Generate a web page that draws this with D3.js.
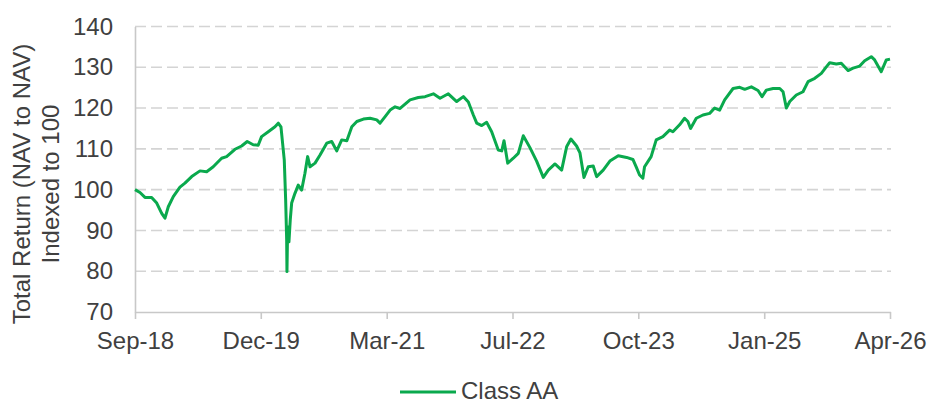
<!DOCTYPE html>
<html>
<head>
<meta charset="utf-8">
<script src="https://d3js.org/d3.v7.min.js"></script>
<style>
    body { margin: 0; background: #ffffff; }
    svg { display: block; font-family: 'Liberation Sans', Arial, sans-serif; }
</style>
<title>Class AA total return</title>
</head>
<body>
<svg id="chart" width="928" height="401"></svg>
<script>
    // dates as decimal years, values indexed to 100
    const years = [
        2018.740, 2018.790, 2018.840, 2018.907, 2018.958, 2019.008, 2019.041, 2019.074, 2019.124, 2019.191,
        2019.241, 2019.309, 2019.392, 2019.459, 2019.525, 2019.609, 2019.659, 2019.743, 2019.810, 2019.866,
        2019.926, 2019.976, 2020.010, 2020.077, 2020.144, 2020.177, 2020.204, 2020.217, 2020.237, 2020.251,
        2020.261, 2020.264, 2020.271, 2020.284, 2020.297, 2020.311, 2020.344, 2020.377, 2020.411, 2020.444,
        2020.471, 2020.495, 2020.545, 2020.595, 2020.662, 2020.712, 2020.762, 2020.812, 2020.863, 2020.913,
        2020.963, 2021.029, 2021.096, 2021.163, 2021.196, 2021.247, 2021.297, 2021.347, 2021.397, 2021.497,
        2021.580, 2021.648, 2021.731, 2021.798, 2021.881, 2021.965, 2022.032, 2022.082, 2022.132, 2022.166,
        2022.216, 2022.266, 2022.316, 2022.382, 2022.417, 2022.440, 2022.477, 2022.533, 2022.583, 2022.633,
        2022.700, 2022.767, 2022.834, 2022.884, 2022.951, 2023.018, 2023.068, 2023.111, 2023.168, 2023.202,
        2023.242, 2023.285, 2023.335, 2023.369, 2023.435, 2023.502, 2023.586, 2023.670, 2023.733, 2023.766,
        2023.800, 2023.833, 2023.850, 2023.916, 2023.967, 2024.034, 2024.101, 2024.134, 2024.201, 2024.251,
        2024.284, 2024.311, 2024.368, 2024.435, 2024.502, 2024.552, 2024.602, 2024.652, 2024.736, 2024.803,
        2024.853, 2024.919, 2024.986, 2025.026, 2025.069, 2025.137, 2025.204, 2025.237, 2025.270, 2025.304,
        2025.370, 2025.437, 2025.488, 2025.555, 2025.621, 2025.671, 2025.705, 2025.771, 2025.821, 2025.889,
        2025.939, 2026.006, 2026.056, 2026.122, 2026.156, 2026.222, 2026.273, 2026.310
    ];
    const values = [
        100.0, 99.3, 98.1, 98.1, 96.7, 94.2, 93.0, 95.8, 98.3, 100.6,
        101.6, 103.2, 104.6, 104.4, 105.6, 107.7, 108.1, 109.9, 110.7, 111.8,
        111.0, 110.9, 113.0, 114.2, 115.4, 116.3, 115.4, 112.2, 107.3, 97.5,
        87.7, 79.9, 90.9, 87.2, 92.6, 96.7, 99.1, 101.1, 99.9, 104.0,
        108.1, 105.6, 106.5, 108.5, 111.4, 111.8, 109.5, 112.2, 112.0, 115.4,
        116.7, 117.3, 117.5, 117.1, 116.3, 117.9, 119.5, 120.3, 119.9, 122.0,
        122.6, 122.8, 123.5, 122.4, 123.5, 121.6, 122.8, 121.5, 118.3, 116.3,
        115.7, 116.5, 114.2, 109.7, 109.5, 112.0, 106.5, 107.7, 108.9, 113.2,
        110.3, 107.0, 103.0, 104.8, 106.3, 104.8, 110.5, 112.4, 110.7, 109.0,
        103.0, 105.6, 105.8, 103.2, 104.8, 107.0, 108.3, 107.9, 107.4, 105.6,
        103.6, 102.8, 105.6, 108.1, 112.2, 113.0, 114.6, 114.2, 115.9, 117.5,
        116.7, 115.0, 117.5, 118.3, 118.7, 120.0, 119.5, 122.0, 124.8, 125.1,
        124.6, 125.2, 124.3, 122.8, 124.4, 124.8, 124.8, 124.0, 120.0, 121.6,
        123.2, 124.0, 126.5, 127.3, 128.5, 130.1, 131.1, 130.8, 131.0, 129.2,
        129.8, 130.3, 131.6, 132.6, 131.8, 128.9, 131.8, 132.0
    ];
    const yTicks = [70, 80, 90, 100, 110, 120, 130, 140];
    const xTickYears = [2018.740, 2020.002, 2021.263, 2022.525, 2023.787, 2025.048, 2026.310];
    const xTickLabels = ["Sep-18", "Dec-19", "Mar-21", "Jul-22", "Oct-23", "Jan-25", "Apr-26"];
    const seriesName = "Class AA";
    const titleLines = ["Total Return (NAV to NAV)", "Indexed to 100"];

    function toDate(y) {
        var yr = Math.floor(y);
        var start = Date.UTC(yr, 0, 1);
        var end = Date.UTC(yr + 1, 0, 1);
        return new Date(start + (y - yr) * (end - start));
    }

    var data = years.map(function (y, i) {
        return { date: toDate(y), value: values[i] };
    });

    var svg = d3.select("#chart");
    var plotLeft = 135, plotRight = 890, plotTop = 26.5, plotBottom = 312;
    var green = "#0aa94d";
    var textColor = "#404040";

    var x = d3.scaleUtc()
        .domain([toDate(years[0]), toDate(years[years.length - 1])])
        .range([plotLeft, plotRight]);
    var y = d3.scaleLinear()
        .domain([70, 140])
        .range([plotBottom, plotTop]);

    // dashed gridlines
    svg.append("g")
        .selectAll("line")
        .data(yTicks.filter(function (d) { return d > 70; }))
        .enter()
        .append("line")
        .attr("x1", plotLeft)
        .attr("x2", plotRight + 1)
        .attr("y1", function (d) { return y(d); })
        .attr("y2", function (d) { return y(d); })
        .style("stroke", "#d4d4d4")
        .style("stroke-width", "1.6px")
        .style("stroke-dasharray", "11,5");

    // y axis
    var yAxis = d3.axisLeft(y)
        .tickValues(yTicks)
        .tickSize(0)
        .tickPadding(22);
    var gy = svg.append("g")
        .attr("transform", "translate(" + plotLeft + ",0)")
        .call(yAxis);
    gy.select(".domain")
        .style("stroke", "#c8c8c8")
        .style("stroke-width", "1.6px");
    gy.selectAll("text")
        .style("font-size", "24px")
        .style("fill", textColor);

    // x axis
    var xAxis = d3.axisBottom(x)
        .tickValues(xTickYears.map(toDate))
        .tickFormat(function (d, i) { return xTickLabels[i]; })
        .tickSizeOuter(0)
        .tickSizeInner(7)
        .tickPadding(13);
    var gx = svg.append("g")
        .attr("transform", "translate(0," + plotBottom + ")")
        .call(xAxis);
    gx.select(".domain")
        .attr("d", "M" + plotLeft + ",0.5H" + (plotRight + 1))
        .style("stroke", "#c8c8c8")
        .style("stroke-width", "1.6px");
    gx.selectAll(".tick line")
        .style("stroke", "#c8c8c8")
        .style("stroke-width", "1.6px");
    gx.selectAll("text")
        .style("font-size", "24px")
        .style("fill", textColor);

    // line
    var line = d3.line()
        .x(function (d) { return x(d.date); })
        .y(function (d) { return y(d.value); });
    svg.append("path")
        .datum(data)
        .attr("d", line)
        .style("fill", "none")
        .style("stroke", green)
        .style("stroke-width", "3px")
        .style("stroke-linejoin", "round");

    // y axis title
    svg.append("g")
        .selectAll("text")
        .data(titleLines)
        .enter()
        .append("text")
        .attr("transform", function (d, i) {
            return "translate(" + (30 + i * 29) + "," + 184 + ") rotate(-90)";
        })
        .attr("text-anchor", "middle")
        .style("font-size", "24px")
        .style("fill", textColor)
        .text(function (d) { return d; });

    // legend
    var legend = svg.append("g")
        .attr("transform", "translate(400,392)");
    legend.append("line")
        .attr("x1", 0)
        .attr("x2", 56)
        .style("stroke", green)
        .style("stroke-width", "3px");
    legend.append("text")
        .attr("x", 61)
        .attr("dy", "0.3em")
        .style("font-size", "24px")
        .style("fill", textColor)
        .text(seriesName);
</script>
</body>
</html>
